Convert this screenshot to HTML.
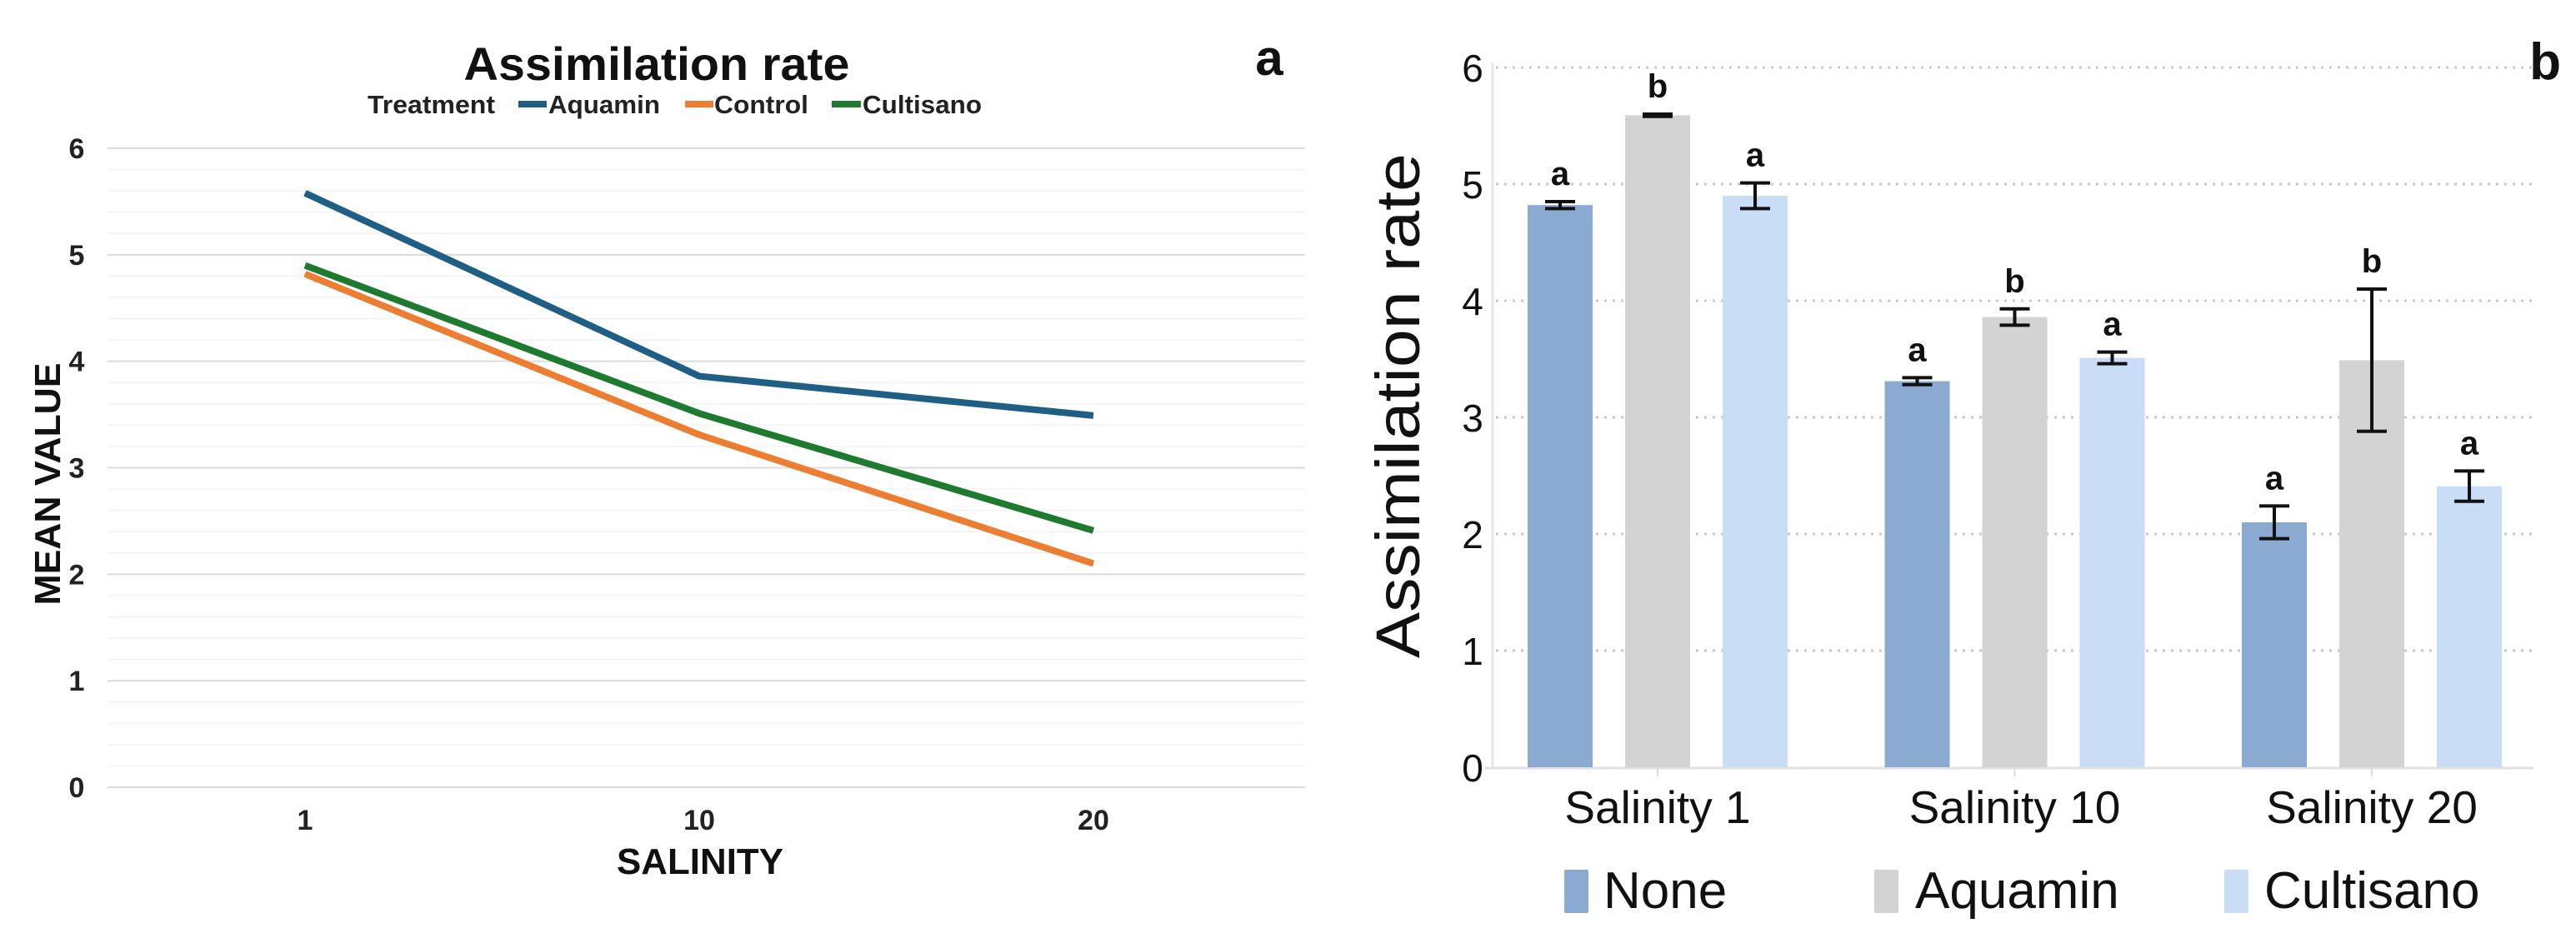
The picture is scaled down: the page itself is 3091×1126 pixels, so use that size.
<!DOCTYPE html>
<html><head><meta charset="utf-8"><style>
html,body{margin:0;padding:0;background:#fff}
svg{display:block}
text{font-family:"Liberation Sans",Arial,sans-serif}
</style></head><body>
<svg id="fig" width="3091" height="1126" viewBox="0 0 3091 1126" xmlns="http://www.w3.org/2000/svg">
<g id="left"></g>
<g id="right"></g>
</svg>
<script>
// ---- Chart a (line chart) data ----
const lineCats = ["1","10","20"];
const aquaminLine = [5.58, 3.86, 3.49];
const controlLine = [4.82, 3.31, 2.10];
const cultisanoLine = [4.90, 3.51, 2.41];
const lineYTicks = [0,1,2,3,4,5,6];

// ---- Chart b (bar chart) data ----
const barCats = ["Salinity 1","Salinity 10","Salinity 20"];
const noneVals = [4.82, 3.31, 2.10];
const aquaminVals = [5.59, 3.86, 3.49];
const cultisanoVals = [4.90, 3.51, 2.41];
const noneErr = [0.03, 0.03, 0.14];
const aquaminErr = [0.01, 0.07, 0.61];
const cultisanoErr = [0.11, 0.05, 0.13];
const noneLetters = ["a","a","a"];
const aquaminLetters = ["b","b","b"];
const cultisanoLetters = ["a","a","a"];
const barYTicks = [0,1,2,3,4,5,6];

const NS="http://www.w3.org/2000/svg";
function mk(parent,tag,attrs,txt){const e=document.createElementNS(NS,tag);for(const k in attrs)e.setAttribute(k,attrs[k]);if(txt!==undefined)e.textContent=txt;parent.appendChild(e);return e;}

// ===== Chart a =====
const L=document.getElementById('left');
const ay=v=>945-(v/6)*(945-178);
const axPos=[366,840,1312];
const ax=i=>axPos[0]+i*((axPos[2]-axPos[0])/(lineCats.length-1));
for(let v=0; v<=6.0001; v+=0.2){
  const major=Math.abs(v-Math.round(v))<1e-6;
  const g=mk(L,'line',{x1:129,x2:1566,y1:ay(v),y2:ay(v),stroke:major?'#dcdcdc':'#f2f2f2','stroke-width':major?2:1.5});
  
  
}
lineYTicks.forEach(v=>{
  const t=mk(L,'text',{x:92,y:ay(v)+12,'text-anchor':'middle','font-size':34,'font-weight':'bold',fill:'#222'},String(v));
  
  
});
lineCats.forEach((c,i)=>{
  const t=mk(L,'text',{x:ax(i),y:996,'text-anchor':'middle','font-size':34,'font-weight':'bold',fill:'#222'},c);
  
  
});
const series=[[aquaminLine,'#1f5f86','aquamin-line'],[controlLine,'#ed7d31','control-line'],[cultisanoLine,'#1e7a2e','cultisano-line']];
series.forEach(([d,c,n])=>{
  const p=mk(L,'polyline',{points:d.map((v,i)=>ax(i)+','+ay(v)).join(' '),fill:'none',stroke:c,'stroke-width':8,'stroke-linejoin':'round'});
  
  
});
</script>
<script>
// static labels chart a
(function(){
const L=document.getElementById('left');
L.insertAdjacentHTML('beforeend',`
<text x="788" y="96" text-anchor="middle" font-size="56" font-weight="bold" fill="#111" textLength="463" lengthAdjust="spacingAndGlyphs">Assimilation rate</text>
<text x="441" y="136" font-size="31" font-weight="bold" fill="#222" textLength="153" lengthAdjust="spacingAndGlyphs">Treatment</text>
<line x1="622" x2="656" y1="125" y2="125" stroke="#1f5f86" stroke-width="8"/>
<text x="658" y="136" font-size="31" font-weight="bold" fill="#222" textLength="134" lengthAdjust="spacingAndGlyphs">Aquamin</text>
<line x1="822" x2="856" y1="125" y2="125" stroke="#ed7d31" stroke-width="8"/>
<text x="857" y="136" font-size="31" font-weight="bold" fill="#222" textLength="113" lengthAdjust="spacingAndGlyphs">Control</text>
<line x1="998" x2="1033" y1="125" y2="125" stroke="#1e7a2e" stroke-width="8"/>
<text x="1035" y="136" font-size="31" font-weight="bold" fill="#222" textLength="143" lengthAdjust="spacingAndGlyphs">Cultisano</text>
<text x="840" y="1049" text-anchor="middle" font-size="44" font-weight="bold" fill="#111" textLength="200" lengthAdjust="spacingAndGlyphs">SALINITY</text>
<text transform="translate(72,581) rotate(-90)" text-anchor="middle" font-size="44" font-weight="bold" fill="#111" textLength="291" lengthAdjust="spacingAndGlyphs">MEAN VALUE</text>
<text x="1523" y="90" text-anchor="middle" font-size="60" font-weight="bold" fill="#111">a</text>`);
})();
</script>
<script>
// ===== Chart b =====
(function(){
const R=document.getElementById('right');
const by=v=>921-(v/6)*(921-81);
const groupCenters0=1989, groupStep=428.5;
const gx=i=>groupCenters0+i*groupStep;
const barW=78, off=117;
barYTicks.forEach(v=>{
  if(v>0){
    const g=mk(R,'line',{x1:1795,x2:3040,y1:by(v),y2:by(v),stroke:'#c8c8c8','stroke-width':3,'stroke-dasharray':'3 7'});
    
    
  }
  const t=mk(R,'text',{x:1767,y:by(v)+17,'text-anchor':'middle','font-size':46,fill:'#111'},String(v));
  
  
});
const yax=mk(R,'line',{x1:1791,x2:1791,y1:75,y2:923,stroke:'#e6e6e6','stroke-width':3});


const xax=mk(R,'line',{x1:1782,x2:3040,y1:922,y2:922,stroke:'#e0e0e0','stroke-width':3});


const groups=[[noneVals,noneErr,noneLetters,'#8aaad2','none'],[aquaminVals,aquaminErr,aquaminLetters,'#d3d3d3','aquamin'],[cultisanoVals,cultisanoErr,cultisanoLetters,'#c9ddf6','cultisano']];
barCats.forEach((c,i)=>{
  const tk=mk(R,'line',{x1:gx(i),x2:gx(i),y1:922,y2:932,stroke:'#ddd','stroke-width':2});
  
  
  const t=mk(R,'text',{x:gx(i),y:988,'text-anchor':'middle','font-size':55,fill:'#111'},c);
  
  
  groups.forEach(([vals,errs,lets,col,name],j)=>{
    const cx=gx(i)+(j-1)*off;
    const b=mk(R,'rect',{x:cx-barW/2,y:by(vals[i]),width:barW,height:by(0)-by(vals[i]),fill:col});
    
    
    const top=by(vals[i]+errs[i]), bot=by(vals[i]-errs[i]);
    const e=mk(R,'path',{d:`M${cx-18},${top}H${cx+18}M${cx},${top}V${bot}M${cx-18},${bot}H${cx+18}`,stroke:'#111','stroke-width':4,fill:'none'});
    
    
    const l=mk(R,'text',{x:cx,y:top-20,'text-anchor':'middle','font-size':40,'font-weight':'bold',fill:'#111'},lets[i]);
    
    
  });
});
R.insertAdjacentHTML('beforeend',`
<text transform="translate(1703,487) rotate(-90)" text-anchor="middle" font-size="74" fill="#111" textLength="606" lengthAdjust="spacingAndGlyphs">Assimilation rate</text>
<text x="3054" y="95" text-anchor="middle" font-size="62" font-weight="bold" fill="#111">b</text>
<rect x="1877" y="1044" width="29" height="52" rx="2" fill="#8aaad2"/>
<text x="1924" y="1090" font-size="62" fill="#111">None</text>
<rect x="2249" y="1044" width="29" height="52" rx="2" fill="#d3d3d3"/>
<text x="2298" y="1090" font-size="62" fill="#111">Aquamin</text>
<rect x="2669" y="1044" width="29" height="52" rx="2" fill="#c9ddf6"/>
<text x="2717" y="1090" font-size="62" fill="#111">Cultisano</text>`);
})();
</script>
</body></html>
